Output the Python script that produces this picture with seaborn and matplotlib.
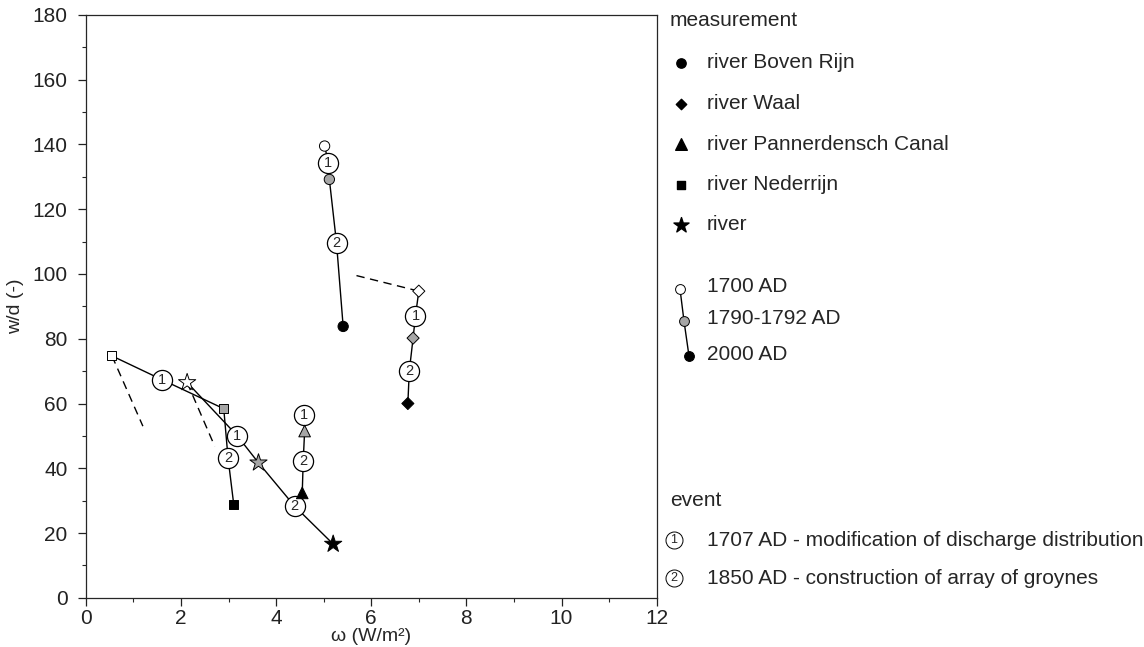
import numpy as np
import pandas as pd
import seaborn as sns
import matplotlib.pyplot as plt

sns.set_style('ticks')
plt.rcParams['font.family'] = ['Liberation Sans', 'DejaVu Sans']

# Measurements per river: 1700 AD, 1790-1792 AD, 2000 AD
rivers = ['river Boven Rijn', 'river Waal', 'river Pannerdensch Canal', 'river Nederrijn', 'river']
markers = ['o', 'D', '^', 's', '*']
omega_1700 = [5.02, 7.00, np.nan, 0.55, 2.13]
wd_1700 = [139.5, 94.7, np.nan, 74.7, 66.5]
omega_1790 = [5.12, 6.88, 4.60, 2.90, 3.63]
wd_1790 = [129.2, 80.2, 51.5, 58.4, 41.7]
omega_2000 = [5.41, 6.77, 4.55, 3.11, 5.20]
wd_2000 = [83.8, 60.0, 32.4, 28.8, 16.6]

# Event positions along each river path
omega_ev1 = [5.10, 6.93, 4.59, 1.61, 3.18]
wd_ev1 = [134.4, 87.1, 56.6, 67.3, 50.1]
omega_ev2 = [5.27, 6.80, 4.57, 2.99, 4.39]
wd_ev2 = [109.6, 70.0, 42.2, 43.2, 28.3]

# Dashed segments
dash_x = [[5.69, 7.00], [0.55, 1.20], [2.13, 2.71]]
dash_y = [[99.5, 94.7], [74.7, 53.0], [66.5, 46.8]]

rows = []
for i, r in enumerate(rivers):
    for yr, ox, wy in [(1700, omega_1700[i], wd_1700[i]), (1707, omega_ev1[i], wd_ev1[i]),
                       (1790, omega_1790[i], wd_1790[i]), (1850, omega_ev2[i], wd_ev2[i]),
                       (2000, omega_2000[i], wd_2000[i])]:
        if not np.isnan(ox):
            rows.append({'river': r, 'year': yr, 'omega': ox, 'wd': wy})
df = pd.DataFrame(rows)

fig = plt.figure(figsize=(11.44, 6.47), dpi=100)
ax = fig.add_axes([0.075, 0.076, 0.499, 0.901])

sns.lineplot(data=df, x='omega', y='wd', units='river', estimator=None, sort=False,
             color='black', lw=1.0, ax=ax, zorder=1)
for dx, dy in zip(dash_x, dash_y):
    ax.plot(dx, dy, color='black', lw=1.0, ls=(0, (6, 4)), zorder=1)

ev = pd.DataFrame({'omega': omega_ev1 + omega_ev2, 'wd': wd_ev1 + wd_ev2,
                   'label': ['1'] * 5 + ['2'] * 5})
sns.scatterplot(data=ev, x='omega', y='wd', s=210, color='white', edgecolor='black',
                linewidth=0.9, ax=ax, zorder=3)
for _, e in ev.iterrows():
    ax.text(e['omega'], e['wd'], e['label'], ha='center', va='center', fontsize=10.5, zorder=4)

sizes = {'o': 55, 'D': 38, '^': 70, 's': 42, '*': 170}
for i, m in enumerate(markers):
    pts = pd.DataFrame({'omega': [omega_1700[i], omega_1790[i], omega_2000[i]],
                        'wd': [wd_1700[i], wd_1790[i], wd_2000[i]],
                        'period': ['1700', '1790', '2000']}).dropna()
    sns.scatterplot(data=pts, x='omega', y='wd', hue='period', marker=m, s=sizes[m],
                    palette={'1700': 'white', '1790': '#a6a6a6', '2000': 'black'},
                    edgecolor='black', linewidth=0.7, legend=False, ax=ax, zorder=5)

ax.set_xlim(0, 12)
ax.set_ylim(0, 180)
ax.set_xticks(range(0, 13, 2))
ax.set_xticks(range(0, 13, 1), minor=True)
ax.set_yticks(range(0, 181, 20))
ax.set_yticks(range(0, 181, 10), minor=True)
ax.tick_params(which='major', direction='out', length=6, width=0.9, labelsize=15,
               colors='#222222', pad=2)
ax.tick_params(axis='y', which='major', pad=7)
ax.tick_params(which='minor', direction='out', length=3, width=0.8)
for s in ax.spines.values():
    s.set_linewidth(0.9)
ax.set_xlabel('ω (W/m²)', fontsize=14, labelpad=0)
ax.set_ylabel('w/d (-)', fontsize=14, labelpad=6)

# Legend panel drawn in pixel space
lax = fig.add_axes([0, 0, 1, 1])
lax.set_xlim(0, 1144)
lax.set_ylim(647, 0)
lax.axis('off')
fs = 15
lax.text(670, 20, 'measurement', fontsize=fs, va='center')
leg_sizes = {'o': 45, 'D': 28, '^': 70, 's': 32, '*': 130}
for i, (r, m) in enumerate(zip(rivers, markers)):
    y = 63 + i * 40.5
    lax.scatter([681], [y], marker=m, s=leg_sizes[m], color='black')
    lax.text(707, y, r, fontsize=fs, va='center')

lax.plot([680, 684, 689], [289, 321, 356], color='black', lw=1.0, zorder=1)
for (px, py), fc, lab in zip([(680, 289), (684, 321), (689, 356)],
                             ['white', '#a6a6a6', 'black'],
                             ['1700 AD', '1790-1792 AD', '2000 AD']):
    lax.scatter([px], [py], s=50, color=fc, edgecolor='black', linewidth=0.7, zorder=2)
    lax.text(707, py - 2, lab, fontsize=fs, va='center')

lax.text(670, 500, 'event', fontsize=fs, va='center')
for i, lab in enumerate(['1707 AD - modification of discharge distribution',
                         '1850 AD - construction of array of groynes']):
    y = 540 + i * 38
    lax.scatter([674], [y], s=150, color='white', edgecolor='black', linewidth=0.7)
    lax.text(674, y, str(i + 1), fontsize=9, ha='center', va='center')
    lax.text(707, y, lab, fontsize=fs, va='center')

fig.savefig('out.png', dpi=100)
